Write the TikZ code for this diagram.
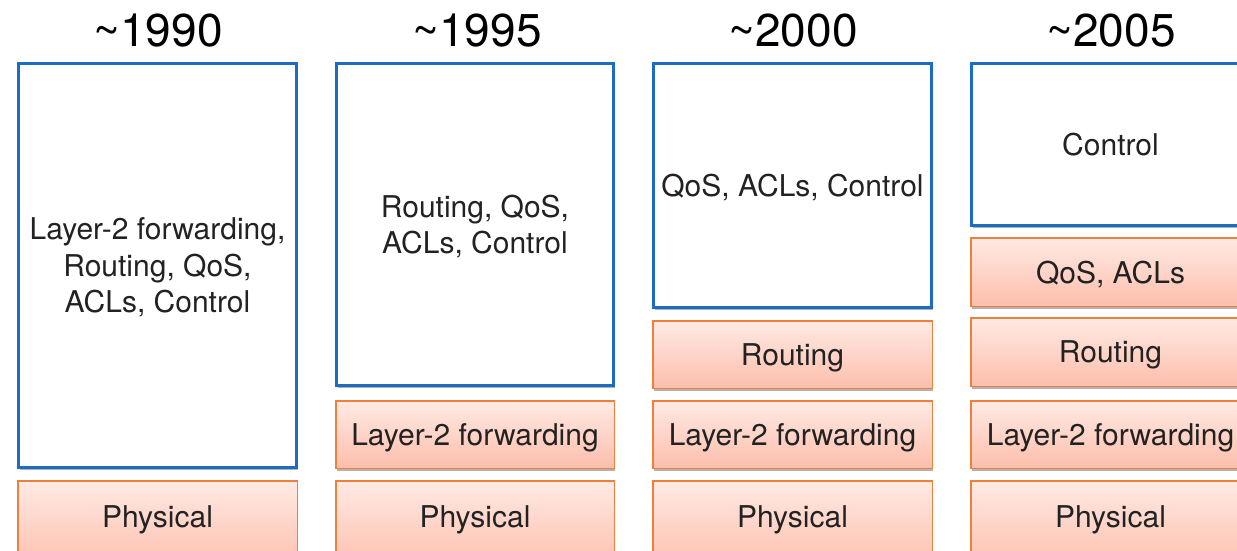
\documentclass[tikz,border=0pt]{standalone}
\usepackage{fontspec}
\setmainfont{TeX Gyre Heros}
\usetikzlibrary{shadows}
\definecolor{layerblue}{RGB}{29,108,196}
\definecolor{layeredge}{RGB}{237,128,60}
\definecolor{layertop}{RGB}{255,234,228}
\definecolor{layerbottom}{RGB}{253,190,172}
\definecolor{labelgray}{RGB}{34,34,34}
\tikzset{
  box/.style={rectangle, inner sep=0pt, outer sep=0pt, align=center,
    text=labelgray, font=\fontsize{30}{36.5}\selectfont, text depth=0pt,
    drop shadow={shadow xshift=1.2pt, shadow yshift=-2.5pt, opacity=0.3, fill=black}},
  softbox/.style={box, draw=layerblue, line width=3pt, fill=white},
  layerbox/.style={box, draw=layeredge, line width=1.5pt,
    top color=layertop, bottom color=layerbottom},
  caption/.style={inner sep=0pt, text=labelgray, font=\fontsize{30}{36}\selectfont,
    text depth=0pt},
  era/.style={font=\fontsize{46}{50}\selectfont, text=black, inner sep=0pt}
}
\begin{document}
\begin{tikzpicture}[x=1pt, y=-1pt]
\useasboundingbox (0,0) rectangle (1237,551);
\clip (0,0) rectangle (1237,551);
\fill[white] (0,0) rectangle (1237,551);

% year headings
\node[era] (y1) at (158,31) {\textasciitilde1990};
\node[era] (y2) at (477,31) {\textasciitilde1995};
\node[era] (y3) at (793,31) {\textasciitilde2000};
\node[era] (y4) at (1111,31) {\textasciitilde2005};

% ~1990: everything in software above the physical layer
\node[softbox, minimum width=278pt, minimum height=404pt] (s1) at (157.5,265.5)
  {Layer-2 forwarding,\\Routing, QoS,\\ACLs, Control};
\node[layerbox, minimum width=279.5pt, minimum height=88.5pt] (p1) at (157.5,525) {};
\node[caption] (p1t) at (157.5,517) {Physical};

% ~1995
\node[softbox, minimum width=277pt, minimum height=322pt] (s2) at (475,224.5)
  {Routing, QoS,\\ACLs, Control};
\node[layerbox, minimum width=278.5pt, minimum height=67.5pt] (l2) at (475,434.5) {Layer-2 forwarding};
\node[layerbox, minimum width=278.5pt, minimum height=88.5pt] (p2) at (475,525) {};
\node[caption] (p2t) at (475,517) {Physical};

% ~2000
\node[softbox, minimum width=278pt, minimum height=244pt] (s3) at (792.5,185.5)
  {QoS, ACLs, Control};
\node[layerbox, minimum width=279.5pt, minimum height=67.5pt] (r3) at (792.5,354.5) {Routing};
\node[layerbox, minimum width=279.5pt, minimum height=67.5pt] (l3) at (792.5,434.5) {Layer-2 forwarding};
\node[layerbox, minimum width=279.5pt, minimum height=88.5pt] (p3) at (792.5,525) {};
\node[caption] (p3t) at (792.5,517) {Physical};

% ~2005
\node[softbox, minimum width=278pt, minimum height=162pt] (s4) at (1110.5,144.5)
  {Control};
\node[layerbox, minimum width=279.5pt, minimum height=68.5pt] (q4) at (1110.5,272) {QoS, ACLs};
\node[layerbox, minimum width=279.5pt, minimum height=68.5pt] (r4) at (1110.5,352) {Routing};
\node[layerbox, minimum width=279.5pt, minimum height=67.5pt] (l4) at (1110.5,434.5) {Layer-2 forwarding};
\node[layerbox, minimum width=279.5pt, minimum height=88.5pt] (p4) at (1110.5,525) {};
\node[caption] (p4t) at (1110.5,517) {Physical};
\end{tikzpicture}
\end{document}
